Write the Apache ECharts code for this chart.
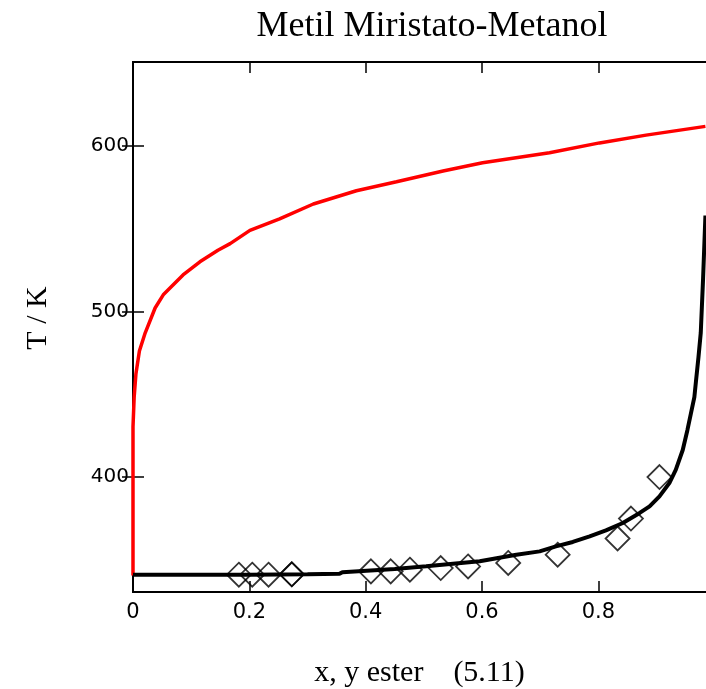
<!DOCTYPE html>
<html>
<head>
<meta charset="utf-8">
<script src="https://cdn.jsdelivr.net/npm/echarts@6/dist/echarts.min.js"></script>
<style>
  body { margin: 0; background: #fff; }
  #chart { width: 706px; height: 689px; }
</style>
</head>
<body>
<div id="chart"></div>
<script>
// curva de vapor (roja)
var vaporX = [0, 0, 0.002, 0.005, 0.011, 0.021, 0.038, 0.052, 0.086, 0.115, 0.146, 0.167, 0.201, 0.252, 0.310, 0.384, 0.453, 0.533, 0.601, 0.716, 0.802, 0.882, 0.984];
var vaporT = [340, 430, 448, 462, 476, 487, 502, 510, 522, 530, 537, 541, 549, 556, 565, 573, 578.5, 585, 590, 596, 602, 606.7, 612];
// curva de liquido (negra)
var liqX = [0, 0.1, 0.2, 0.3, 0.355, 0.36, 0.45, 0.504, 0.596, 0.659, 0.699, 0.727, 0.756, 0.785, 0.813, 0.842, 0.871, 0.888, 0.905, 0.922, 0.933, 0.945, 0.953, 0.959, 0.965, 0.968, 0.972, 0.976, 0.980, 0.984];
var liqT = [340.4, 340.4, 340.5, 340.7, 341, 342, 344, 345.6, 348.6, 352.6, 354.6, 357.6, 360.3, 363.7, 367.3, 371.8, 377.9, 381.9, 387.9, 396, 404, 416, 428, 438, 448, 458.5, 472, 487, 520, 558];
// datos experimentales
var expX = [0.182, 0.205, 0.233, 0.273, 0.273, 0.409, 0.443, 0.476, 0.529, 0.576, 0.645, 0.730, 0.833, 0.856, 0.905];
var expT = [340.5, 340.5, 340.5, 340.7, 340.7, 342.5, 342.5, 343.5, 344.5, 345.5, 347.6, 352.6, 362.4, 374.5, 399.6];
var xTicks = [0, 0.2, 0.4, 0.6, 0.8];
var yTicks = [400, 500, 600];

function pairs(xs, ys) {
  return xs.map(function (x, i) { return [x, ys[i]]; });
}

var myChart = echarts.init(document.getElementById("chart"));

var tickStyle = { show: true, inside: true, length: 11, lineStyle: { color: "#000", width: 1.5 } };
var lineStyle = { show: true, lineStyle: { color: "#000", width: 2 } };

var option = {
  animation: false,
  backgroundColor: "#fff",
  title: {
    text: "Metil Miristato-Metanol",
    left: 427,
    top: 4,
    textAlign: "center",
    textStyle: { fontFamily: "Liberation Serif", fontSize: 36, fontWeight: "normal", color: "#000" }
  },
  grid: { left: 133, right: 0, top: 62, bottom: 97, outerBoundsMode: "none", containLabel: false },
  xAxis: [
    {
      type: "value", min: 0, max: 0.985,
      name: "x, y ester    (5.11)",
      nameLocation: "middle", nameGap: 66,
      nameTextStyle: { fontFamily: "Liberation Serif", fontSize: 30, color: "#000" },
      axisLine: lineStyle,
      axisTick: Object.assign({ customValues: xTicks.slice(1) }, tickStyle),
      axisLabel: { customValues: xTicks, margin: 10, fontFamily: "DejaVu Sans", fontSize: 21, color: "#000" },
      splitLine: { show: false }
    },
    {
      type: "value", min: 0, max: 0.985, position: "top",
      axisLine: lineStyle,
      axisTick: Object.assign({ customValues: xTicks.slice(1) }, tickStyle),
      axisLabel: { show: false },
      splitLine: { show: false }
    }
  ],
  yAxis: [
    {
      type: "value", min: 330, max: 651,
      name: "T / K",
      nameLocation: "middle", nameGap: 80, nameRotate: 90,
      nameTextStyle: { fontFamily: "Liberation Serif", fontSize: 30, color: "#000", padding: [0, 0, 0, 18] },
      axisLine: lineStyle,
      axisTick: Object.assign({ customValues: yTicks }, tickStyle),
      axisLabel: { customValues: yTicks, margin: 4, fontFamily: "DejaVu Sans", fontSize: 20, color: "#000" },
      splitLine: { show: false }
    },
    {
      type: "value", min: 330, max: 651, position: "right",
      axisLine: lineStyle,
      axisTick: Object.assign({ customValues: yTicks }, tickStyle),
      axisLabel: { show: false },
      splitLine: { show: false }
    }
  ],
  series: [
    {
      name: "vapor", type: "line", data: pairs(vaporX, vaporT),
      showSymbol: false, lineStyle: { color: "#ff0000", width: 3.5 }
    },
    {
      name: "liquido", type: "line", data: pairs(liqX, liqT),
      showSymbol: false, lineStyle: { color: "#000", width: 4 }
    },
    {
      name: "exp", type: "scatter", data: pairs(expX, expT),
      symbol: "diamond", symbolSize: 24,
      itemStyle: { color: "rgba(255,255,255,0)", borderColor: "#000", borderWidth: 1.8 }
    }
  ]
};

option && myChart.setOption(option);
</script>
</body>
</html>
